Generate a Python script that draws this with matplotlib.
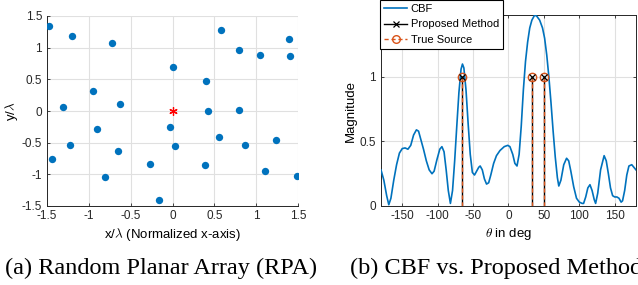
import numpy as np
import matplotlib.pyplot as plt
from matplotlib.legend_handler import HandlerLine2D

plt.rcParams['font.family'] = ['Liberation Sans', 'DejaVu Sans']
plt.rcParams['axes.unicode_minus'] = False
plt.rcParams['mathtext.fontset'] = 'cm'

# (a) 素子位置 (x/lambda, y/lambda)
elem_x = [-1.48, -1.20, -0.72, 0.58, 1.39, 0.80, 1.05, 1.41, 0.00, 0.40,
          -0.95, -1.31, -0.63, 0.42, 0.79, -0.90, -0.03, -1.22, -0.65, 0.03,
          0.56, 0.87, 1.24, -1.44, -0.27, 0.39, -0.81, 1.11, 1.49, -0.16]
elem_y = [1.34, 1.19, 1.08, 1.28, 1.14, 0.96, 0.89, 0.87, 0.69, 0.48,
          0.32, 0.06, 0.11, 0.00, 0.02, -0.29, -0.26, -0.54, -0.63, -0.56,
          -0.41, -0.53, -0.45, -0.76, -0.83, -0.85, -1.04, -0.95, -1.02, -1.41]
ref_x = [0.0]
ref_y = [0.0]

# (b) CBFスペクトル
theta = [-180, -176, -172, -169, -166, -162, -158, -154, -150, -146,
         -142, -138, -134, -130, -127, -124, -120, -116, -112, -108,
         -105, -101, -97, -94, -91, -88, -85, -82, -79, -76,
         -73, -70, -67, -65, -63, -60, -57, -54, -51, -48,
         -45, -42, -40, -37, -34, -31, -28, -25, -21, -17,
         -12, -6, -1, 2, 6, 9, 12, 15, 18, 21,
         24, 27, 30, 33, 37, 40, 44, 48, 51, 54,
         57, 60, 63, 66, 69, 71, 74, 78, 82, 85,
         88, 92, 96, 100, 104, 106, 109, 112, 115, 118,
         121, 123, 126, 130, 135, 138, 141, 144, 147, 150,
         153, 156, 159, 161, 164, 167, 170, 174, 177, 180]
cbf = [0.28, 0.20, 0.08, 0.01, 0.06, 0.20, 0.32, 0.41, 0.445, 0.45,
       0.44, 0.47, 0.55, 0.59, 0.58, 0.52, 0.44, 0.35, 0.28, 0.25,
       0.27, 0.36, 0.44, 0.46, 0.42, 0.28, 0.12, 0.02, 0.12, 0.35,
       0.62, 0.88, 1.06, 1.10, 1.07, 0.90, 0.64, 0.40, 0.26, 0.24,
       0.27, 0.30, 0.31, 0.28, 0.21, 0.17, 0.18, 0.24, 0.33, 0.39,
       0.43, 0.46, 0.47, 0.46, 0.40, 0.33, 0.31, 0.40, 0.62, 0.90,
       1.12, 1.27, 1.38, 1.44, 1.48, 1.47, 1.44, 1.38, 1.30, 1.17,
       1.00, 0.80, 0.58, 0.38, 0.22, 0.155, 0.20, 0.32, 0.37, 0.35,
       0.27, 0.15, 0.06, 0.03, 0.02, 0.02, 0.07, 0.14, 0.165, 0.12,
       0.05, 0.02, 0.10, 0.28, 0.39, 0.35, 0.25, 0.14, 0.08, 0.07,
       0.07, 0.06, 0.03, 0.04, 0.12, 0.24, 0.31, 0.32, 0.30, 0.28]

doa_true = [-65, 33, 50]
doa_est = [-65, 33, 50]
amp = [1, 1, 1]

BLUE = '#0072BD'
ORANGE = '#D95319'
GRID = '#E0E0E0'
SPINE = '#262626'
FS = 8.5     # 目盛り
FL = 9.5     # 軸ラベル


# 凡例のマーカーを線の右端に置く
class EndMarker(HandlerLine2D):
    def get_xdata(self, legend, xdescent, ydescent, width, height, fontsize):
        xd, xm = super().get_xdata(legend, xdescent, ydescent, width, height, fontsize)
        return xd, [xd[0] + 0.85 * (xd[-1] - xd[0])]


fig = plt.figure(figsize=(6.38, 2.85), dpi=100)

# (a)
ax1 = fig.add_axes([47/638, 1-206/285, 251/638, 190/285])
ax1.scatter(elem_x, elem_y, s=28, color=BLUE, zorder=3, linewidths=0)
ax1.plot(ref_x, ref_y, linestyle='none', marker=(6, 2, 0), color='r',
         ms=6, mew=0.9, zorder=4)
ax1.set_xlim(-1.5, 1.5)
ax1.set_ylim(-1.5, 1.5)
ticks = [-1.5, -1, -0.5, 0, 0.5, 1, 1.5]
tlab = ['-1.5', '-1', '-0.5', '0', '0.5', '1', '1.5']
ax1.set_xticks(ticks, tlab)
ax1.set_yticks(ticks, tlab)
ax1.grid(True, color=GRID, lw=0.8)
ax1.set_axisbelow(True)
ax1.spines['top'].set_visible(False)
ax1.spines['right'].set_visible(False)
ax1.set_xlabel(r'x/$\lambda$ (Normalized x-axis)', fontsize=FL, labelpad=3)
ax1.set_ylabel(r'y/$\lambda$', fontsize=FL, labelpad=1)

# (b)
ax2 = fig.add_axes([381/638, 1-206/285, 255/638, 191/285])
l1, = ax2.plot(theta, cbf, color=BLUE, lw=1.2, label='CBF', zorder=3)
for t, a in zip(doa_est, amp):
    ax2.plot([t, t], [0, a], color='k', lw=1.0, zorder=4)
ax2.plot(doa_est, amp, linestyle='none', marker='x', color='k',
         ms=4, mew=0.9, zorder=6)
for t, a in zip(doa_true, amp):
    ax2.plot([t, t], [0, a], color=ORANGE, lw=1.0, ls=(0, (3, 2)), zorder=5)
ax2.plot(doa_true, amp, linestyle='none', marker='o', mfc='none',
         mec=ORANGE, ms=6, mew=1.0, zorder=5)
ax2.set_xlim(-180, 180)
ax2.set_ylim(0, 1.48)
ax2.set_xticks([-150, -100, -50, 0, 50, 100, 150])
ax2.set_yticks([0, 0.5, 1], ['0', '0.5', '1'])
ax2.grid(True, color=GRID, lw=0.8)
ax2.set_axisbelow(True)
ax2.set_xlabel(r'$\theta$ in deg', fontsize=FL, labelpad=3)
ax2.set_ylabel('Magnitude', fontsize=FL, labelpad=2)

h2 = plt.Line2D([], [], color='k', lw=1.0, marker='x', ms=4, mew=0.9)
h3 = plt.Line2D([], [], color=ORANGE, lw=1.0, ls=(0, (3, 2)), marker='o',
                mfc='none', mec=ORANGE, ms=5.5)
leg = ax2.legend([l1, h2, h3], ['CBF', 'Proposed Method', 'True Source'],
                 loc='upper left', bbox_to_anchor=(380/638, 1.0),
                 bbox_transform=fig.transFigure, borderaxespad=0,
                 fontsize=8, fancybox=False, framealpha=1, edgecolor='k',
                 handlelength=2.1, handletextpad=0.3, borderpad=0.35,
                 labelspacing=0.5, handler_map={h2: EndMarker(), h3: EndMarker()})
leg.get_frame().set_linewidth(0.8)
leg.set_zorder(10)

for ax in (ax1, ax2):
    ax.tick_params(labelsize=FS, length=2.5, width=0.6, color=SPINE,
                   labelcolor=SPINE, direction='in')
    ax.tick_params(axis='x', pad=3)
    ax.tick_params(axis='y', pad=3.5)
    for s in ax.spines.values():
        s.set_color(SPINE)
        s.set_linewidth(0.7)
ax2.tick_params(top=True, right=True)

fig.text(5/638, 1-268/285, '(a) Random Planar Array (RPA)',
         family=['Liberation Serif', 'DejaVu Serif'], fontsize=17.5,
         va='center', ha='left')
fig.text(350/638, 1-268/285, '(b) CBF vs. Proposed Method',
         family=['Liberation Serif', 'DejaVu Serif'], fontsize=17.5,
         va='center', ha='left')

fig.savefig('out.png', dpi=100)
